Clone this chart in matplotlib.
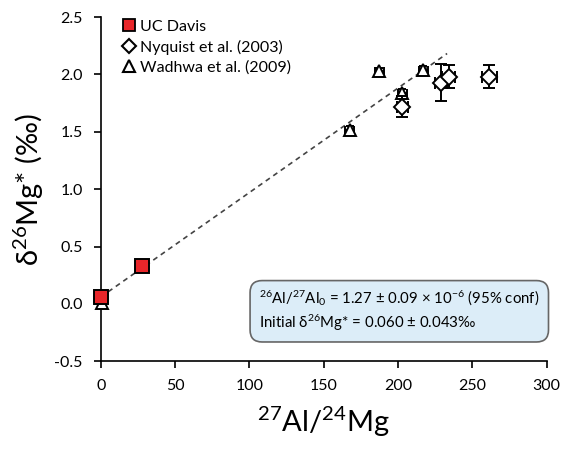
import matplotlib
matplotlib.use("Agg")
import matplotlib.pyplot as plt
import numpy as np

plt.rcParams['font.family'] = ['Lato', 'DejaVu Sans']
plt.rcParams['mathtext.fontset'] = 'custom'
plt.rcParams['mathtext.rm'] = 'Lato'
plt.rcParams['mathtext.it'] = 'Lato:italic'

# UC Davis
ucd_x = [0.0, 28.0]
ucd_y = [0.06, 0.33]

# Nyquist et al. (2003)
nyq_x = [203.0, 229.0, 234.0, 261.5]
nyq_y = [1.72, 1.93, 1.98, 1.98]
nyq_xerr = [4.0, 4.0, 4.5, 5.0]
nyq_yerr = [0.09, 0.16, 0.10, 0.10]

# Wadhwa et al. (2009)
wad_x = [0.5, 167.5, 187.5, 203.0, 217.0]
wad_y = [0.01, 1.52, 2.03, 1.84, 2.04]
wad_xerr = [1.0, 3.0, 3.0, 3.0, 3.0]
wad_yerr = [0.02, 0.03, 0.03, 0.03, 0.03]

# isochron
slope = 0.00911
intercept = 0.060
fit_x = np.array([0.0, 233.0])

fig = plt.figure(figsize=(5.63, 4.51), dpi=100)
ax = fig.add_axes([0.179, 0.199, 0.792, 0.763])

ax.plot(fit_x, intercept + slope * fit_x, ls=(0, (3, 2.5)), color='#444444', lw=1.2, zorder=1)

eb = ax.errorbar(wad_x, wad_y, xerr=wad_xerr, yerr=wad_yerr, fmt='^', ms=8, mfc='white', mec='black',
                 mew=1.4, ecolor='black', elinewidth=1.2, capsize=3, zorder=3)
for art in eb.get_children():
    art.set_clip_on(False)
ax.errorbar(nyq_x, nyq_y, xerr=nyq_xerr, yerr=nyq_yerr, fmt='D', ms=8, mfc='white', mec='black',
            mew=1.4, ecolor='black', elinewidth=1.4, capsize=4, zorder=4)
ax.plot(ucd_x, ucd_y, 's', ms=10, mfc='#e8262a', mec='black', mew=1.4, zorder=5, clip_on=False)

h2 = [plt.Line2D([], [], marker='s', ls='', ms=9, mfc='#e8262a', mec='black', mew=1.3),
      plt.Line2D([], [], marker='D', ls='', ms=7, mfc='white', mec='black', mew=1.5),
      plt.Line2D([], [], marker='^', ls='', ms=8, mfc='white', mec='black', mew=1.5)]
ax.legend(h2, ['UC Davis', 'Nyquist et al. (2003)', 'Wadhwa et al. (2009)'], loc='upper left',
          frameon=False, fontsize=11.5, handletextpad=0.1, handlelength=1.2, borderaxespad=0.2,
          labelspacing=0.35, bbox_to_anchor=(0.02, 1.02))

ax.set_xlim(0, 300)
ax.set_ylim(-0.5, 2.5)
ax.set_xticks(np.arange(0, 301, 50))
ax.set_yticks(np.arange(-0.5, 2.51, 0.5))
ax.yaxis.set_major_formatter(matplotlib.ticker.FormatStrFormatter('%.1f'))
ax.spines['top'].set_visible(False)
ax.spines['right'].set_visible(False)
ax.spines['left'].set_linewidth(1.2)
ax.spines['bottom'].set_linewidth(1.2)
ax.tick_params(direction='out', length=5, width=1.2, labelsize=11.5, pad=8)

ax.set_xlabel('$^{27}$Al/$^{24}$Mg', fontsize=21, labelpad=8)
ax.set_ylabel('δ$^{26}$Mg* (‰)', fontsize=21, labelpad=6)

ax.text(0.355, 0.21, '$^{26}$Al/$^{27}$Al$_0$ = 1.27 ± 0.09 × 10$^{-6}$ (95% conf)\nInitial δ$^{26}$Mg* = 0.060 ± 0.043‰',
        transform=ax.transAxes, fontsize=10.8, va='top', ha='left', linespacing=1.3,
        bbox=dict(boxstyle='round,pad=0.6,rounding_size=0.8', fc='#dcedf8', ec='#666666', lw=1.2))

fig.savefig('out.png', dpi=100)
